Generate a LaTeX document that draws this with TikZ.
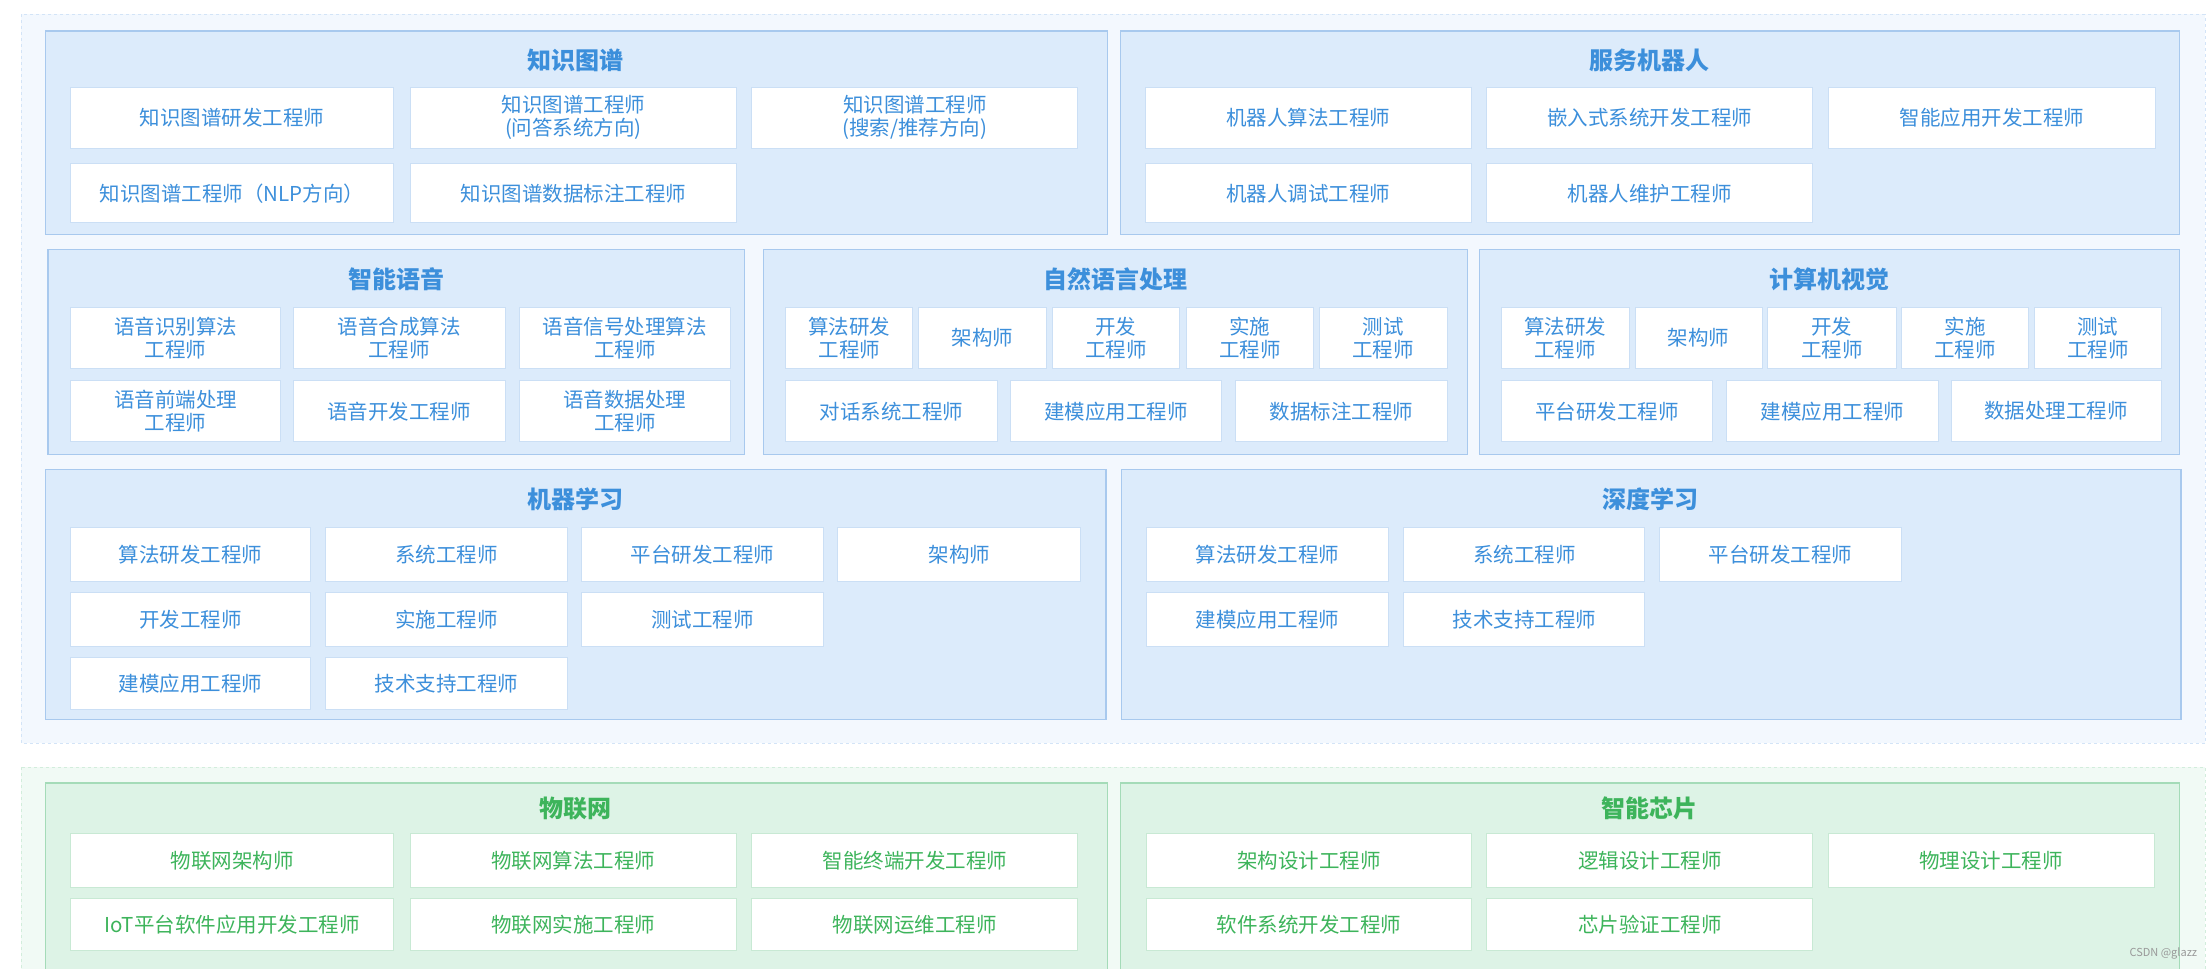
\documentclass[tikz,border=0pt]{standalone}
\usepackage{fontspec}
\setmainfont{Noto Sans CJK SC}
\definecolor{bfill}{HTML}{DCEBFB}
\definecolor{bline}{HTML}{A8C9EE}
\definecolor{btext}{HTML}{3C8FDB}
\definecolor{bouter}{HTML}{F3F8FE}
\definecolor{gfill}{HTML}{DDF3E6}
\definecolor{gline}{HTML}{A4DBB8}
\definecolor{gtext}{HTML}{3DB45B}
\definecolor{gouter}{HTML}{F1FAF5}
\tikzset{
  cellb/.style={draw=bline!60,fill=white,line width=1pt,text=btext,align=center,font=\fontsize{20.5}{23}\selectfont,inner sep=0pt},
  cellg/.style={draw=gline!60,fill=white,line width=1pt,text=gtext,align=center,font=\fontsize{20.5}{23}\selectfont,inner sep=0pt},
  panelb/.style={draw=bline,fill=bfill,line width=1.2pt,inner sep=0pt},
  panelg/.style={draw=gline,fill=gfill,line width=1.2pt,inner sep=0pt},
  ttlb/.style={text=btext,font=\fontsize{24}{26}\selectfont\bfseries},
  ttlg/.style={text=gtext,font=\fontsize{24}{26}\selectfont\bfseries},
}
\newcommand\bx[7]{%
  \pgfmathsetmacro\bw{(#5-#3)*1.4107}\pgfmathsetmacro\bh{(#6-#4)*1.4107}%
  \node[#1,minimum width=\bw pt,minimum height=\bh pt] (#2) at ({(#3+#5)/2},{(#4+#6)/2}) {#7};}
\begin{document}
\begin{tikzpicture}[x=1.4107pt,y=-1.4107pt]
\useasboundingbox (0,0) rectangle (1568,686.2);
\fill[white] (0,0) rectangle (1568,686.2);
\draw[bline!50,fill=bouter,dashed,line width=0.8pt] (15,10) rectangle (1563,527);
\draw[gline!50,fill=gouter,dashed,line width=0.8pt] (15,544) rectangle (1563,690);
\bx{panelb}{pkg}{32}{22}{785}{166}{}
\bx{panelb}{prob}{794}{22}{1545}{166}{}
\bx{panelb}{pvoice}{34}{177}{528}{322}{}
\bx{panelb}{pnlp}{541}{177}{1040}{322}{}
\bx{panelb}{pcv}{1049}{177}{1545}{322}{}
\bx{panelb}{pml}{32}{333}{784}{510}{}
\bx{panelb}{pdl}{795}{333}{1546}{510}{}
\bx{panelg}{piot}{32}{555}{785}{700}{}
\bx{panelg}{pchip}{794}{555}{1545}{700}{}
\node[ttlb] (tkg) at (408,43) {知识图谱};
\node[ttlb] (trob) at (1169,43) {服务机器人};
\node[ttlb] (tvoice) at (281,198) {智能语音};
\node[ttlb] (tnlp) at (791,198) {自然语言处理};
\node[ttlb] (tcv) at (1297,198) {计算机视觉};
\node[ttlb] (tml) at (408,354) {机器学习};
\node[ttlb] (tdl) at (1170,354) {深度学习};
\node[ttlg] (tiot) at (408,573) {物联网};
\node[ttlg] (tchip) at (1169,573) {智能芯片};
\bx{cellb}{kg1}{50}{62}{279}{105}{知识图谱研发工程师}
\bx{cellb}{kg2}{291}{62}{522}{105}{知识图谱工程师\\(问答系统方向)}
\bx{cellb}{kg3}{533}{62}{764}{105}{知识图谱工程师\\(搜索/推荐方向)}
\bx{cellb}{kg4}{50}{116}{279}{158}{知识图谱工程师（NLP方向）}
\bx{cellb}{kg5}{291}{116}{522}{158}{知识图谱数据标注工程师}
\bx{cellb}{r1}{812}{62}{1043}{105}{机器人算法工程师}
\bx{cellb}{r2}{1054}{62}{1285}{105}{嵌入式系统开发工程师}
\bx{cellb}{r3}{1296}{62}{1528}{105}{智能应用开发工程师}
\bx{cellb}{r4}{812}{116}{1043}{158}{机器人调试工程师}
\bx{cellb}{r5}{1054}{116}{1285}{158}{机器人维护工程师}
\bx{cellb}{v1}{50}{218}{199}{261}{语音识别算法\\工程师}
\bx{cellb}{v2}{208}{218}{358}{261}{语音合成算法\\工程师}
\bx{cellb}{v3}{368}{218}{518}{261}{语音信号处理算法\\工程师}
\bx{cellb}{v4}{50}{270}{199}{313}{语音前端处理\\工程师}
\bx{cellb}{v5}{208}{270}{358}{313}{语音开发工程师}
\bx{cellb}{v6}{368}{270}{518}{313}{语音数据处理\\工程师}
\bx{cellb}{n1}{557}{218}{647}{261}{算法研发\\工程师}
\bx{cellb}{n2}{651}{218}{742}{261}{架构师}
\bx{cellb}{n3}{746}{218}{836}{261}{开发\\工程师}
\bx{cellb}{n4}{841}{218}{931}{261}{实施\\工程师}
\bx{cellb}{n5}{935}{218}{1026}{261}{测试\\工程师}
\bx{cellb}{n6}{557}{270}{707}{313}{对话系统工程师}
\bx{cellb}{n7}{716}{270}{866}{313}{建模应用工程师}
\bx{cellb}{n8}{876}{270}{1026}{313}{数据标注工程师}
\bx{cellb}{c1}{1064}{218}{1155}{261}{算法研发\\工程师}
\bx{cellb}{c2}{1159}{218}{1249}{261}{架构师}
\bx{cellb}{c3}{1253}{218}{1344}{261}{开发\\工程师}
\bx{cellb}{c4}{1348}{218}{1438}{261}{实施\\工程师}
\bx{cellb}{c5}{1442}{218}{1532}{261}{测试\\工程师}
\bx{cellb}{c6}{1064}{270}{1214}{313}{平台研发工程师}
\bx{cellb}{c7}{1224}{270}{1374}{313}{建模应用工程师}
\bx{cellb}{c8}{1383}{270}{1532}{313}{数据处理工程师}
\bx{cellb}{m1}{50}{374}{220}{412}{算法研发工程师}
\bx{cellb}{m2}{231}{374}{402}{412}{系统工程师}
\bx{cellb}{m3}{412}{374}{584}{412}{平台研发工程师}
\bx{cellb}{m4}{594}{374}{766}{412}{架构师}
\bx{cellb}{m5}{50}{420}{220}{458}{开发工程师}
\bx{cellb}{m6}{231}{420}{402}{458}{实施工程师}
\bx{cellb}{m7}{412}{420}{584}{458}{测试工程师}
\bx{cellb}{m8}{50}{466}{220}{503}{建模应用工程师}
\bx{cellb}{m9}{231}{466}{402}{503}{技术支持工程师}
\bx{cellb}{d1}{813}{374}{984}{412}{算法研发工程师}
\bx{cellb}{d2}{995}{374}{1166}{412}{系统工程师}
\bx{cellb}{d3}{1176}{374}{1348}{412}{平台研发工程师}
\bx{cellb}{d4}{813}{420}{984}{458}{建模应用工程师}
\bx{cellb}{d5}{995}{420}{1166}{458}{技术支持工程师}
\bx{cellg}{i1}{50}{591}{279}{629}{物联网架构师}
\bx{cellg}{i2}{291}{591}{522}{629}{物联网算法工程师}
\bx{cellg}{i3}{533}{591}{764}{629}{智能终端开发工程师}
\bx{cellg}{i4}{50}{637}{279}{674}{IoT平台软件应用开发工程师}
\bx{cellg}{i5}{291}{637}{522}{674}{物联网实施工程师}
\bx{cellg}{i6}{533}{637}{764}{674}{物联网运维工程师}
\bx{cellg}{h1}{813}{591}{1043}{629}{架构设计工程师}
\bx{cellg}{h2}{1054}{591}{1285}{629}{逻辑设计工程师}
\bx{cellg}{h3}{1296}{591}{1527}{629}{物理设计工程师}
\bx{cellg}{h4}{813}{637}{1043}{674}{软件系统开发工程师}
\bx{cellg}{h5}{1054}{637}{1285}{674}{芯片验证工程师}
\node[text=gray!80,font=\fontsize{11}{12}\selectfont,anchor=east] (wm) at (1560,676) {CSDN @glazz};
\end{tikzpicture}
\end{document}
